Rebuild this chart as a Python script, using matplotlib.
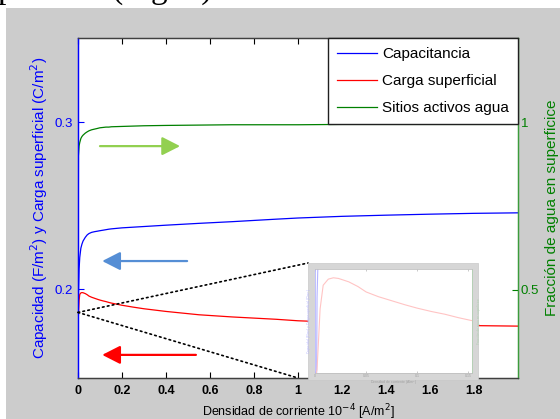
#!/usr/bin/env python
# -*- coding: utf-8 -*-

import matplotlib.pyplot as plt
from matplotlib.patches import Rectangle, ConnectionPatch
from matplotlib.transforms import Bbox

plt.rcParams['font.family'] = ['Liberation Sans', 'DejaVu Sans']

# densidad de corriente (x 10^-4 A/m2)
densidad = [0, 0.002, 0.005, 0.008, 0.013, 0.018, 0.023, 0.033, 0.042, 0.05,
            0.062, 0.075, 0.088, 0.1, 0.114, 0.127, 0.14, 0.152, 0.2, 0.25,
            0.3, 0.4, 0.55, 0.7, 0.9, 1.0, 1.2, 1.4, 1.6, 1.8, 2.0]

# capacidad (F/m2)
capacitancia = [0.140, 0.195, 0.212, 0.219, 0.2245, 0.2270, 0.2288, 0.2310,
                0.2325, 0.2333, 0.2340, 0.2344, 0.2347, 0.2350, 0.2353, 0.2356,
                0.2359, 0.2361, 0.2367, 0.2371, 0.2375, 0.2383, 0.2394, 0.2404,
                0.2419, 0.2426, 0.2436, 0.2443, 0.2449, 0.2454, 0.2457]

# carga superficial (C/m2)
carga = [0.1830, 0.1843, 0.1933, 0.1968, 0.1977, 0.1979, 0.1978, 0.1973,
         0.1966, 0.1958, 0.1951, 0.1945, 0.1939, 0.1934, 0.1929, 0.1925,
         0.1920, 0.1916, 0.1903, 0.1892, 0.1882, 0.1866, 0.1846, 0.1833,
         0.1819, 0.1810, 0.1800, 0.1792, 0.1786, 0.1781, 0.1778]

# fraccion de sitios activos ocupados por agua
agua = [0.30, 0.90, 0.930, 0.940, 0.952, 0.958, 0.962, 0.968, 0.972, 0.975,
        0.978, 0.980, 0.982, 0.984, 0.985, 0.986, 0.986, 0.987, 0.988, 0.989,
        0.990, 0.991, 0.992, 0.993, 0.993, 0.993, 0.994, 0.994, 0.994, 0.994,
        0.994]

x_ticks = [0, 0.2, 0.4, 0.6, 0.8, 1, 1.2, 1.4, 1.6, 1.8]
x_ticklabels = ['0', '0.2', '0.4', '0.6', '0.8', '1', '1.2', '1.4', '1.6', '1.8']

W, H = 560.0, 419.0
fig = plt.figure(figsize=(5.6, 4.19), dpi=100, facecolor='white')

# fondo gris de la ventana
fig.add_artist(Rectangle((6 / W, 0), 1, 411 / H, transform=fig.transFigure,
                         facecolor='#cccccc', edgecolor='none', zorder=-10))

# linea de texto del documento, solo asoma la parte baja
ax_txt = fig.add_axes([0, 411 / H, 1, 8 / H])
ax_txt.axis('off')
ax_txt.set_xlim(0, W)
ax_txt.set_ylim(0, 8)
ax_txt.text(-2, 10, 'ponente (Fig. 2).', family='Liberation Serif',
            fontsize=24, va='baseline', ha='left', color='black',
            clip_on=True)

azul = '#0000ff'
rojo = '#ff0000'
verde = '#008000'

ax = fig.add_axes([78 / W, 41 / H, 440 / W, 340 / H])
ax.set_facecolor('white')
l1, = ax.plot(densidad, capacitancia, color=azul, lw=0.9, label='Capacitancia')
l2, = ax.plot(densidad, carga, color=rojo, lw=0.9, label='Carga superficial')
ax.set_xlim(0, 2)
ax.set_ylim(0.1467, 0.3505)
ax.set_xticks(x_ticks)
ax.set_xticklabels(x_ticklabels, fontweight='bold')
ax.set_yticks([0.2, 0.3])
ax.set_yticklabels(['0.2', '0.3'])
ax.tick_params(axis='x', direction='in', top=True, length=4, width=0.8,
               labelsize=9, pad=5, colors='black')
ax.tick_params(axis='y', direction='in', length=4, width=0.8, labelsize=9.5,
               pad=4, colors=azul)
ax.set_xlabel('Densidad de corriente 10$^{-4}$ [A/m$^2$]', fontsize=9,
              labelpad=4)
ax.set_ylabel('Capacidad (F/m$^2$) y Carga superficial (C/m$^2$)', fontsize=11,
              color=azul, labelpad=3)

ax2 = ax.twinx()
l3, = ax2.plot(densidad, agua, color=verde, lw=0.9, label='Sitios activos agua')
ax2.set_ylim(0.237, 1.252)
ax2.set_yticks([0.5, 1])
ax2.set_yticklabels(['0.5', '1'])
ax2.tick_params(axis='y', direction='in', length=4, width=0.8, labelsize=9.5,
                pad=2, colors=verde)
ax2.set_ylabel('Fracción de agua en superficice', fontsize=11, color=verde,
               labelpad=4)

for a in (ax, ax2):
    a.spines['top'].set_color('#404040')
    a.spines['bottom'].set_color('#404040')
    a.spines['left'].set_color(azul)
    a.spines['right'].set_color('#3c9c3c')
    for s in a.spines.values():
        s.set_linewidth(0.9)

leg = ax2.legend([l1, l2, l3], [l.get_label() for l in (l1, l2, l3)],
                 loc='upper right', bbox_to_anchor=(1, 1), borderaxespad=0,
                 fancybox=False, edgecolor='#202020', framealpha=1,
                 fontsize=11, handlelength=2.6, handletextpad=0.35,
                 labelspacing=0.85, borderpad=0.6)
leg.get_frame().set_linewidth(1.0)

# flechas que indican el eje de cada curva
flechas = [((0.05, 0.682), (0.232, 0.682), '#92d050'),
           ((0.248, 0.344), (0.055, 0.344), '#558ed5'),
           ((0.268, 0.068), (0.055, 0.068), '#ff0000')]
for cola, punta, c in flechas:
    ax2.annotate('', xy=punta, xytext=cola, xycoords='axes fraction',
                 arrowprops=dict(arrowstyle='-|>,head_length=0.55,head_width=0.28',
                                 mutation_scale=20, lw=1.6, color=c,
                                 shrinkA=0, shrinkB=0))

# recuadro con el detalle de la carga a densidades bajas
marco = Rectangle((308 / W, 39 / H), 170 / W, 117 / H, transform=fig.transFigure,
                  facecolor='#d6d6d6', edgecolor='#c8c8c8', lw=0.5, zorder=3)
fig.add_artist(marco)

ins = fig.add_axes([315 / W, 46 / H, 157 / W, 104 / H], zorder=4)
ins.plot(densidad, capacitancia, color='#b4b4ff', lw=0.8)
ins.plot(densidad, carga, color='#ffc4c4', lw=0.8)
ins.set_xlim(0, 0.1535)
ins.set_ylim(0.1838, 0.1992)
ins.set_xticks([0, 0.05, 0.1, 0.15])
ins.set_xticklabels(['0', '0.05', '0.1', '0.15'])
ins.set_yticks([])
ins.tick_params(axis='x', direction='in', top=True, length=1.5, width=0.4,
                labelsize=2.5, pad=0.8, colors='#a0a0a0')
ins.set_xlabel('Densidad de corriente (A/m$^2$)', fontsize=2.5,
               color='#a0a0a0', labelpad=0.5)
ins.set_ylabel('Capacidad (F/m$^2$) y Carga superficial (C/m$^2$)',
               fontsize=2.3, color='#b4b4ff', labelpad=1)
ins.spines['left'].set_color('#b4b4ff')
ins.spines['right'].set_color('#b0d0b0')
ins.spines['top'].set_color('#c0c0c0')
ins.spines['bottom'].set_color('#c0c0c0')
for s in ins.spines.values():
    s.set_linewidth(0.6)
ins.text(1.03, 0.5, 'Fracción de agua en superficice', fontsize=2.3,
         color='#b0d0b0', rotation=90, ha='left', va='center',
         transform=ins.transAxes)

# lineas punteadas de la zona ampliada
origen = (0, 0.1860)
for esquina in [(308 / W, 156 / H), (298 / W, 41 / H)]:
    con = ConnectionPatch(xyA=origen, coordsA=ax.transData, xyB=esquina,
                          coordsB=fig.transFigure, linestyle=(0, (1, 2)),
                          color='black', lw=1.2, zorder=2.5)
    fig.add_artist(con)

plt.savefig('out.png', dpi=100, bbox_inches=Bbox([[0, 0], [5.6, 4.19]]))
plt.close()
